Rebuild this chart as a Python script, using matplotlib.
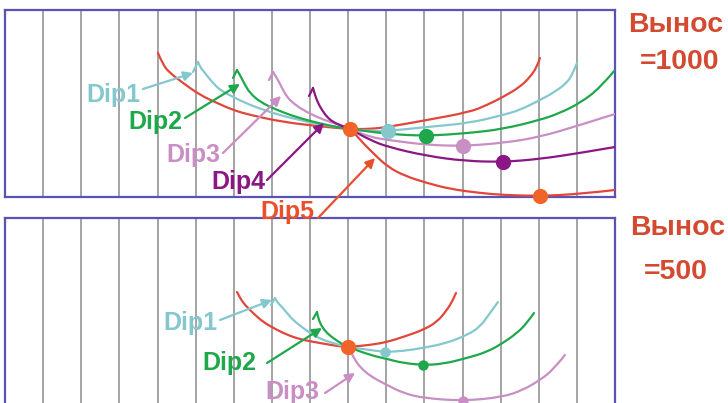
import numpy as np
import matplotlib.pyplot as plt
from matplotlib.path import Path
from matplotlib.patches import PathPatch

# ---------------------------------------------------------------------------
# Data: traveltime curves for several reflector dips, two source-receiver
# offsets. x = distance along the line, t = time (downwards), panel units.
# ---------------------------------------------------------------------------
n_traces = 16
x_extent = 610.0
t_extent = 187.0

# ---- offset 1000 --------------------------------------------------------
top_dip0 = [(153, 43), (158, 55), (165, 63), (178, 73), (195, 85), (212, 93),
            (228, 100), (245, 105), (278, 112), (312, 116), (332, 118),
            (345, 119), (365, 119), (383, 117), (422, 110), (465, 102),
            (482, 95), (498, 87), (515, 77), (525, 67), (532, 57), (535, 48)]
top_dip1 = [(193, 52), (195, 57), (200, 63), (207, 72), (215, 80), (228, 87),
            (245, 95), (262, 101), (278, 106), (295, 110), (312, 114),
            (332, 117), (345, 119), (365, 121), (383, 121), (422, 117),
            (465, 113), (498, 105), (515, 100), (535, 90), (548, 83),
            (562, 73), (568, 63), (572, 53)]
top_dip1_tail = [(188, 62), (193, 52)]
top_dip2 = [(232, 60), (235, 65), (240, 75), (245, 83), (255, 92), (272, 100),
            (288, 106), (305, 111), (322, 115), (337, 118), (345, 119),
            (383, 124), (421, 126), (465, 123), (498, 119), (535, 110),
            (555, 103), (575, 93), (595, 78), (610, 60)]
top_dip2_tail = [(228, 68), (232, 60)]
top_dip3 = [(268, 62), (272, 68), (277, 78), (282, 87), (288, 93), (298, 100),
            (312, 107), (325, 112), (338, 116), (345, 119), (365, 127),
            (383, 130), (422, 135), (458, 136), (498, 133), (535, 127),
            (575, 115), (610, 104)]
top_dip3_tail = [(264, 70), (268, 62)]
top_dip4 = [(308, 78), (310, 85), (313, 93), (317, 100), (322, 107), (328, 112),
            (337, 116), (345, 119), (365, 130), (383, 137), (422, 146),
            (460, 151), (498, 152), (535, 149), (575, 143), (610, 137)]
top_dip4_tail = [(304, 86), (308, 78)]
top_dip5 = [(345, 119), (352, 126), (358, 133), (370, 145), (383, 157),
            (400, 166), (422, 173), (445, 179), (475, 183), (498, 185),
            (535, 186), (575, 184), (610, 180)]
top_apex_x = [345, 383, 421, 458, 498, 535]
top_apex_t = [119, 121, 126, 136, 152, 186]

# ---- offset 500 ---------------------------------------------------------
bot_dip0 = [(232, 74), (235, 80), (240, 87), (248, 95), (258, 104), (272, 112),
            (285, 118), (298, 122), (315, 125), (332, 128), (343, 129),
            (365, 127), (382, 124), (398, 119), (418, 112), (432, 104),
            (442, 92), (448, 82), (451, 75)]
bot_dip1 = [(270, 80), (272, 84), (277, 89), (282, 95), (288, 102), (298, 110),
            (308, 117), (318, 122), (328, 125), (338, 128), (343, 129),
            (365, 132), (380, 134), (398, 133), (418, 130), (442, 125),
            (462, 117), (475, 109), (485, 95), (493, 84)]
bot_dip1_tail = [(266, 87), (270, 80)]
bot_dip2 = [(312, 94), (313, 100), (317, 109), (322, 115), (328, 120),
            (337, 126), (343, 129), (365, 137), (382, 141), (398, 145),
            (418, 147), (438, 146), (462, 140), (482, 134), (498, 125),
            (512, 115), (522, 105), (529, 95)]
bot_dip2_tail = [(308, 101), (312, 94)]
bot_dip3 = [(343, 129), (350, 142), (355, 149), (365, 158), (382, 167),
            (398, 175), (418, 180), (458, 183), (498, 179), (518, 172),
            (535, 162), (548, 152), (560, 137)]
bot_apex_x = [343, 380, 418, 458]
bot_apex_t = [129, 134, 147, 183]

labels = ["Dip1", "Dip2", "Dip3", "Dip4", "Dip5"]

# ---------------------------------------------------------------------------
RED = "#e2463b"
ORANGE = "#f2632a"
CYAN = "#84c8ce"
GREEN = "#1ea84b"
PINK = "#c98fc5"
PURPLE = "#8a1783"
FRAME = "#5a52b4"
GRID = "#a4a4a4"
TITLE = "#d44a30"
LABEL5 = "#ea4f2c"

W, H = 728, 403
fig = plt.figure(figsize=(W / 100, H / 100), dpi=100)
fig.patch.set_facecolor("white")
FONT = dict(family="Liberation Sans", weight="bold")


def panel(left, top, right, bottom):
    ax = fig.add_axes([left / W, 1 - bottom / H, (right - left) / W,
                       (bottom - top) / H])
    ax.set_xlim(0, x_extent)
    ax.set_ylim(t_extent, 0)
    ax.set_xticks([])
    ax.set_yticks([])
    ax.patch.set_alpha(0)
    for s in ax.spines.values():
        s.set_color(FRAME)
        s.set_linewidth(1.6)
    for xv in np.linspace(0, x_extent, n_traces + 1)[1:-1]:
        ax.axvline(xv, color=GRID, lw=1.4, zorder=1)
    return ax


def curve(ax, pts, color, lw=1.6):
    p = np.asarray(pts, float)
    verts, codes = [p[0]], [Path.MOVETO]
    if len(p) == 2:
        verts.append(p[1]); codes.append(Path.LINETO)
    else:
        for i in range(1, len(p) - 1):
            end = p[i + 1] if i == len(p) - 2 else (p[i] + p[i + 1]) / 2
            verts += [p[i], end]
            codes += [Path.CURVE3, Path.CURVE3]
    ax.add_patch(PathPatch(Path(verts, codes), fill=False, edgecolor=color,
                           lw=lw, zorder=3, capstyle="round",
                           joinstyle="round"))


def label(ax, text, color, xy_text, tail, head):
    ax.text(*xy_text, text, color=color, fontsize=18, ha="center",
            va="center", zorder=5, clip_on=False, **FONT)
    ax.annotate("", xy=head, xytext=tail, annotation_clip=False, zorder=5,
                arrowprops=dict(arrowstyle="-|>,head_length=0.55,head_width=0.28",
                                color=color, lw=1.6, shrinkA=0, shrinkB=0))


# ---- top panel -----------------------------------------------------------
ax1 = panel(5, 10, 615, 197)
ax1.set_zorder(2)
curve(ax1, top_dip0, RED)
for pts, tail, col in [(top_dip1, top_dip1_tail, CYAN),
                       (top_dip2, top_dip2_tail, GREEN),
                       (top_dip3, top_dip3_tail, PINK),
                       (top_dip4, top_dip4_tail, PURPLE)]:
    curve(ax1, pts, col)
    curve(ax1, tail, col)
curve(ax1, top_dip5, RED)
dot_cols = [ORANGE, CYAN, GREEN, PINK, PURPLE, ORANGE]
for xv, tv, c in zip(top_apex_x, top_apex_t, dot_cols):
    ax1.plot(xv, tv, "o", ms=11, color=c, mec="none", zorder=4, clip_on=False)

label(ax1, labels[0], CYAN, (108, 85), (138, 79), (188, 63))
label(ax1, labels[1], GREEN, (150, 112), (180, 108), (235, 74))
label(ax1, labels[2], PINK, (188, 145), (218, 143), (276, 86))
label(ax1, labels[3], PURPLE, (233, 172), (262, 170), (319, 113))
label(ax1, labels[4], LABEL5, (282, 202), (313, 208), (370, 148))

# ---- bottom panel --------------------------------------------------------
ax2 = panel(5, 218, 615, 405)
ax2.set_zorder(1)
curve(ax2, bot_dip0, RED)
for pts, tail, col in [(bot_dip1, bot_dip1_tail, CYAN),
                       (bot_dip2, bot_dip2_tail, GREEN)]:
    curve(ax2, pts, col)
    curve(ax2, tail, col)
curve(ax2, bot_dip3, PINK)
for xv, tv, c, s in zip(bot_apex_x, bot_apex_t, [ORANGE, CYAN, GREEN, PINK],
                        [11, 7.5, 7.5, 7.5]):
    ax2.plot(xv, tv, "o", ms=s, color=c, mec="none", zorder=4)

label(ax2, labels[0], CYAN, (185, 105), (215, 102), (267, 82))
label(ax2, labels[1], GREEN, (224, 145), (262, 145), (317, 110))
label(ax2, labels[2], PINK, (287, 174), (320, 175), (350, 155))

# ---- offset captions -----------------------------------------------------
for txt, xc, yc in [("Вынос", 676, 25), ("=1000", 680, 62),
                    ("Вынос", 678, 228), ("=500", 676, 272)]:
    fig.text(xc / W, 1 - yc / H, txt, color=TITLE, fontsize=20.5, ha="center",
             va="center", **FONT)

fig.savefig("out.png", dpi=100, facecolor="white")
